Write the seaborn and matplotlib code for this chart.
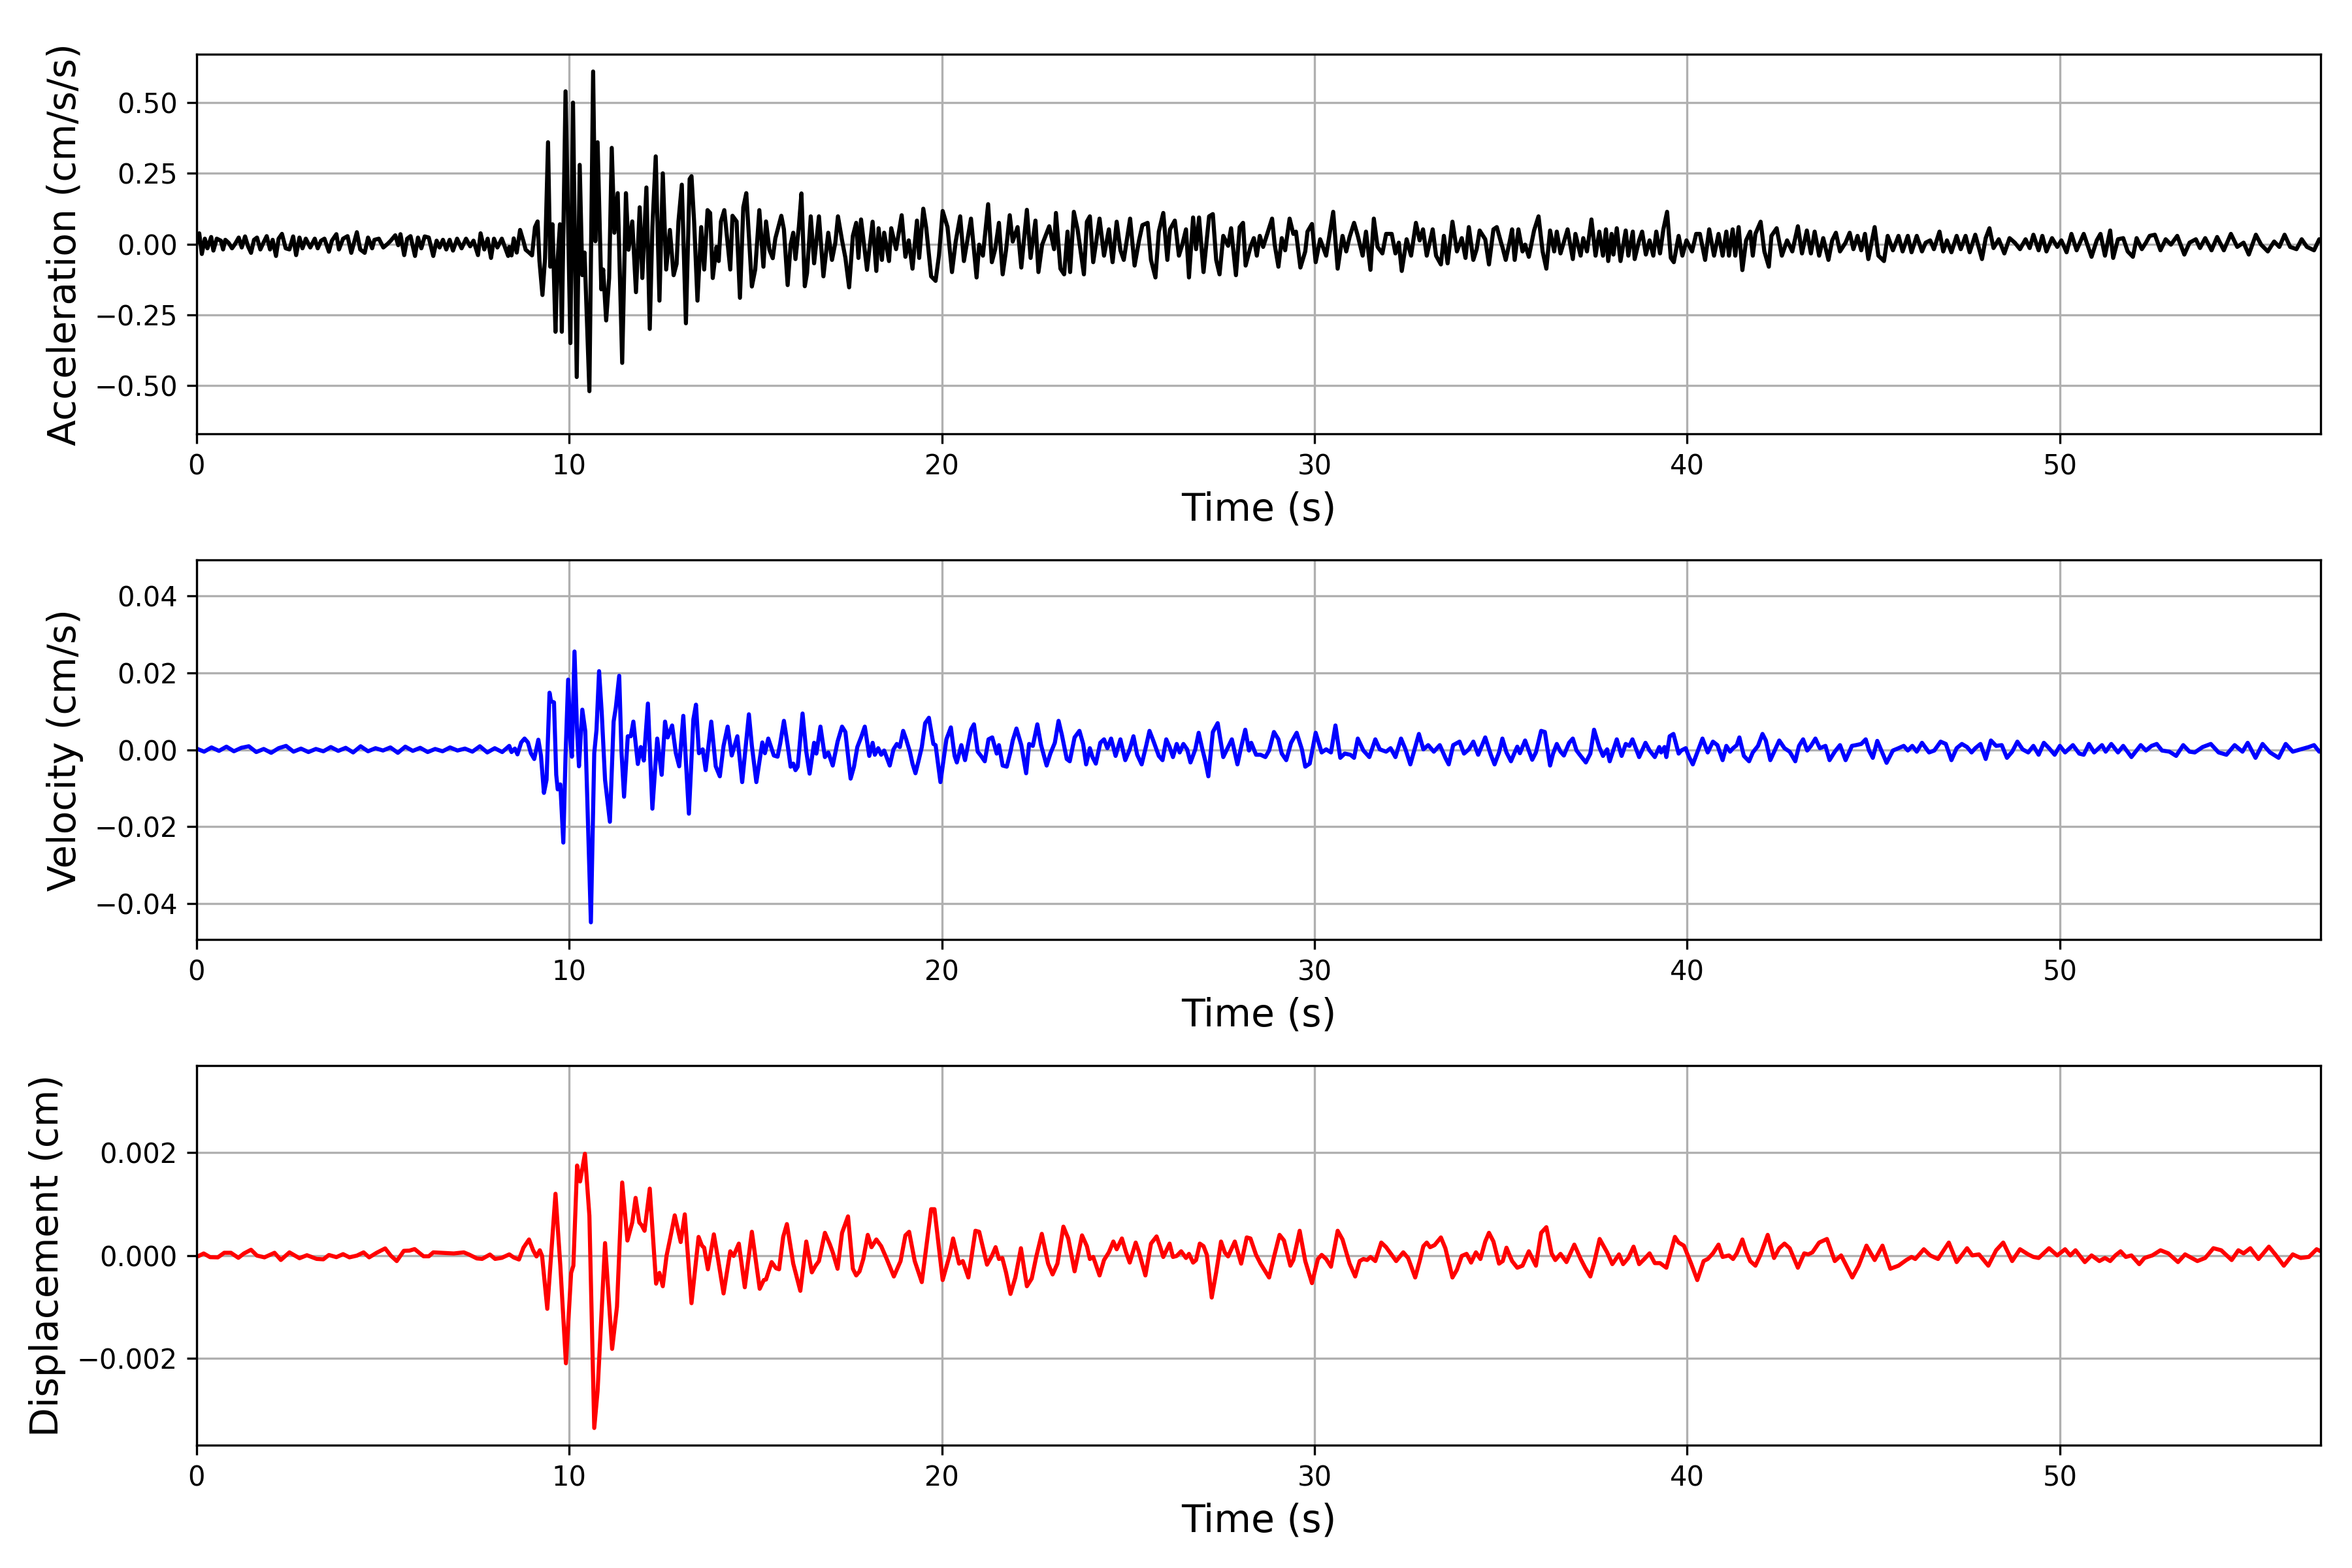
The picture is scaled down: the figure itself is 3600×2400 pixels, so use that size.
import pandas as pd
import numpy as np
import matplotlib
matplotlib.use('Agg')
import matplotlib.pyplot as plt
import seaborn as sns

# values: (time in s, value) at the turning points of each trace

# acceleration, cm/s/s
accel_pre = [(0.00, 0.005), (0.07, 0.038), (0.14, -0.035), (0.22, 0.019), (0.29, -0.015), (0.39, 0.025),
             (0.45, -0.023), (0.54, 0.019), (0.65, 0.012), (0.71, -0.019), (0.77, 0.015), (0.86, 0.004),
             (0.95, -0.015), (1.03, 0.000), (1.13, 0.023), (1.21, -0.012), (1.30, 0.027), (1.38, -0.008),
             (1.46, -0.031), (1.54, 0.015), (1.62, 0.023), (1.71, -0.019), (1.79, 0.004), (1.88, 0.028),
             (1.97, -0.019), (2.04, 0.015), (2.13, -0.042), (2.20, 0.019), (2.29, 0.036), (2.39, -0.015),
             (2.49, -0.019), (2.59, 0.027), (2.67, -0.039), (2.76, 0.023), (2.84, -0.015), (2.93, 0.019),
             (3.05, -0.012), (3.17, 0.019), (3.25, -0.015), (3.34, 0.012), (3.43, 0.019), (3.55, -0.027),
             (3.63, 0.012), (3.75, 0.035), (3.82, -0.019), (3.93, 0.019), (4.05, 0.028), (4.15, -0.031),
             (4.30, 0.042), (4.39, -0.019), (4.51, -0.031), (4.60, 0.023), (4.71, -0.015), (4.77, 0.015),
             (4.89, 0.019), (5.01, -0.012), (5.12, 0.000), (5.21, 0.012), (5.33, 0.031), (5.41, -0.004),
             (5.47, 0.035), (5.57, -0.039), (5.65, 0.019), (5.74, 0.028), (5.86, -0.042), (5.94, 0.023),
             (6.03, -0.015), (6.12, 0.027), (6.23, 0.023), (6.35, -0.042), (6.44, 0.012), (6.52, -0.012),
             (6.61, 0.015), (6.70, -0.019), (6.79, 0.015), (6.88, -0.023), (6.99, 0.019), (7.11, -0.015),
             (7.23, 0.019), (7.34, -0.008), (7.43, 0.012), (7.55, -0.039), (7.62, 0.038), (7.72, -0.019),
             (7.81, 0.019), (7.90, -0.049), (7.98, 0.019), (8.07, -0.012), (8.19, 0.019), (8.36, -0.042)]

accel_strong = [(8.39, -0.01), (8.45, -0.04), (8.51, 0.02), (8.59, -0.03), (8.68, 0.05), (8.77, 0.01),
                (8.83, -0.02), (8.92, -0.03), (9.00, -0.04), (9.08, 0.06), (9.15, 0.08), (9.20, -0.06),
                (9.28, -0.18), (9.35, -0.05), (9.43, 0.36), (9.49, -0.08), (9.55, 0.07), (9.63, -0.31),
                (9.68, -0.07), (9.75, 0.07), (9.80, -0.31), (9.90, 0.54), (10.03, -0.35), (10.10, 0.50),
                (10.20, -0.47), (10.28, 0.28), (10.35, -0.11), (10.41, -0.03), (10.54, -0.52), (10.64, 0.61),
                (10.70, 0.01), (10.76, 0.36), (10.86, -0.16), (10.91, -0.09), (10.99, -0.27), (11.07, -0.12),
                (11.14, 0.34), (11.21, 0.04), (11.30, 0.18), (11.42, -0.42), (11.52, 0.18), (11.59, -0.02),
                (11.69, 0.08), (11.79, -0.17), (11.89, 0.13), (11.96, -0.12), (12.07, 0.20), (12.16, -0.30),
                (12.23, 0.06), (12.32, 0.31), (12.42, -0.20), (12.51, 0.25), (12.60, -0.09), (12.70, 0.05),
                (12.80, -0.11), (12.88, -0.07), (12.93, 0.08), (13.02, 0.21), (13.13, -0.28), (13.23, 0.23),
                (13.28, 0.24), (13.35, 0.08), (13.44, -0.20), (13.54, 0.06), (13.62, -0.09), (13.71, 0.12),
                (13.78, 0.11), (13.85, -0.12), (13.95, -0.01), (14.01, -0.06), (14.07, 0.08), (14.16, 0.12),
                (14.32, -0.09), (14.38, 0.10), (14.49, 0.08), (14.58, -0.19), (14.67, 0.13), (14.75, 0.18),
                (14.82, 0.03), (14.90, -0.15), (14.99, -0.09), (15.10, 0.12), (15.21, -0.08), (15.28, 0.08),
                (15.37, -0.02), (15.46, -0.05), (15.53, 0.02), (15.69, 0.10)]

accel_mid = [(15.76, 0.052), (15.86, -0.145), (15.94, -0.002), (16.01, 0.040), (16.07, -0.053), (16.16, 0.060),
             (16.23, 0.179), (16.32, -0.149), (16.38, -0.103), (16.48, 0.098), (16.57, -0.068), (16.70, 0.098),
             (16.82, -0.114), (16.95, 0.040), (17.05, -0.056), (17.14, 0.005), (17.21, 0.098), (17.32, 0.013),
             (17.41, -0.049), (17.51, -0.153), (17.61, 0.029), (17.70, 0.075), (17.76, -0.049), (17.83, 0.087),
             (17.99, -0.091), (18.14, 0.079), (18.24, -0.095), (18.30, 0.056), (18.39, -0.056), (18.45, 0.040),
             (18.58, -0.060), (18.64, 0.056), (18.77, -0.018), (18.92, 0.102), (19.02, -0.045), (19.11, 0.013),
             (19.21, -0.087), (19.33, 0.083), (19.39, -0.049), (19.50, 0.125), (19.58, 0.056), (19.71, -0.114),
             (19.83, -0.130), (19.92, -0.041), (20.02, 0.117), (20.15, 0.060), (20.27, -0.099), (20.37, 0.009),
             (20.49, 0.098), (20.59, -0.060), (20.78, 0.090), (20.93, -0.118), (21.00, -0.002), (21.10, -0.041),
             (21.24, 0.141), (21.34, -0.064), (21.43, -0.018), (21.53, 0.075), (21.63, -0.107), (21.72, -0.022),
             (21.82, 0.102), (21.90, 0.009), (22.03, 0.060), (22.13, -0.083), (22.28, 0.121), (22.38, -0.049),
             (22.51, 0.083), (22.59, -0.099), (22.69, -0.002), (22.88, 0.063), (23.01, -0.018), (23.06, 0.110),
             (23.18, -0.087), (23.28, -0.107), (23.37, 0.044), (23.44, -0.099), (23.54, 0.114), (23.64, 0.052),
             (23.81, -0.107), (23.89, 0.079), (23.97, 0.098), (24.06, -0.064), (24.23, 0.090), (24.35, -0.041),
             (24.48, 0.052), (24.58, -0.064), (24.69, 0.079), (24.79, -0.022), (24.88, -0.056), (24.98, 0.029),
             (25.05, 0.090), (25.17, -0.076), (25.29, 0.013), (25.38, 0.067), (25.52, 0.075), (25.61, -0.056),
             (25.73, -0.118), (25.82, 0.044), (25.94, 0.110), (26.05, -0.056), (26.12, 0.052), (26.25, 0.083),
             (26.36, -0.041), (26.45, -0.002), (26.55, 0.052), (26.63, -0.118), (26.74, 0.094), (26.82, -0.018),
             (26.90, 0.094), (27.02, -0.099), (27.17, 0.098), (27.27, 0.106), (27.36, -0.056), (27.45, -0.107),
             (27.55, 0.029), (27.68, -0.006), (27.76, 0.056), (27.89, -0.110), (27.99, 0.060), (28.08, 0.075),
             (28.15, -0.076), (28.28, -0.010), (28.37, 0.021), (28.45, -0.041), (28.53, 0.029), (28.62, -0.010),
             (28.73, 0.036), (28.86, 0.090), (28.93, -0.002), (29.03, -0.080), (29.12, 0.021), (29.21, -0.022),
             (29.33, 0.090), (29.43, 0.036), (29.50, 0.044), (29.62, -0.083), (29.75, -0.026), (29.81, 0.044),
             (29.93, 0.071), (30.03, -0.064), (30.15, 0.017), (30.31, -0.041), (30.50, 0.114), (30.62, -0.087),
             (30.75, 0.029), (30.85, -0.026), (30.94, 0.025), (31.06, 0.075), (31.16, 0.029), (31.29, -0.041),
             (31.38, 0.044), (31.50, -0.091), (31.59, 0.090), (31.69, -0.010), (31.82, -0.033), (31.92, 0.036),
             (32.07, 0.036), (32.17, -0.033), (32.26, 0.005), (32.34, -0.095), (32.47, 0.017), (32.59, -0.041),
             (32.72, 0.075), (32.82, 0.013), (32.91, 0.052), (33.01, -0.041), (33.17, 0.052), (33.26, -0.041),
             (33.39, -0.072), (33.47, 0.029), (33.57, -0.068), (33.70, 0.079), (33.82, -0.026), (33.95, 0.021),
             (34.05, -0.049), (34.14, 0.060), (34.26, -0.056), (34.35, -0.018), (34.43, 0.048), (34.58, 0.017),
             (34.68, -0.072), (34.80, 0.052), (34.89, 0.060), (35.02, -0.002)]

accel_late = [(35.04, -0.010), (35.13, -0.056), (35.23, 0.005), (35.30, 0.052), (35.37, -0.056), (35.47, 0.052),
              (35.58, -0.026), (35.65, -0.002), (35.75, -0.045), (35.89, 0.048), (36.01, 0.098), (36.12, -0.026),
              (36.22, -0.087), (36.32, 0.048), (36.43, -0.026), (36.50, 0.044), (36.60, -0.033), (36.72, 0.021),
              (36.79, 0.052), (36.93, -0.053), (37.00, 0.036), (37.14, -0.041), (37.21, 0.021), (37.31, -0.026),
              (37.43, 0.087), (37.54, -0.041), (37.64, 0.044), (37.74, -0.041), (37.82, 0.052), (37.88, -0.060),
              (37.97, 0.036), (38.02, -0.037), (38.11, 0.056), (38.21, -0.060), (38.35, 0.048), (38.42, -0.041),
              (38.54, 0.044), (38.59, -0.053), (38.71, 0.013), (38.79, 0.044), (38.89, -0.037), (38.99, 0.013),
              (39.09, -0.041), (39.17, 0.044), (39.27, -0.033), (39.36, 0.052), (39.46, 0.114), (39.56, -0.049),
              (39.64, -0.064), (39.77, 0.029), (39.87, -0.041), (39.98, 0.013), (40.13, -0.026), (40.24, 0.036),
              (40.34, 0.036), (40.48, -0.056), (40.59, 0.052), (40.72, -0.041), (40.84, 0.036), (40.95, -0.041),
              (41.05, 0.044), (41.12, -0.041), (41.22, 0.052), (41.29, -0.041), (41.38, 0.060), (41.48, -0.092),
              (41.58, 0.013), (41.69, 0.044), (41.76, -0.041), (41.83, 0.036), (41.97, 0.079), (42.07, -0.026),
              (42.19, -0.080), (42.26, 0.029), (42.40, 0.056), (42.54, -0.041), (42.68, 0.013), (42.82, -0.026),
              (42.97, 0.063), (43.08, -0.033), (43.21, 0.048), (43.32, -0.033), (43.42, 0.044), (43.54, -0.041),
              (43.65, 0.021), (43.79, -0.056), (43.89, 0.013), (43.99, 0.040), (44.10, -0.026), (44.25, 0.005),
              (44.36, 0.040), (44.46, -0.018), (44.57, 0.029), (44.67, -0.022), (44.77, 0.036), (44.86, -0.053),
              (45.03, 0.060), (45.13, -0.041), (45.28, -0.060), (45.38, 0.029), (45.52, -0.022), (45.67, 0.029),
              (45.78, -0.026), (45.92, 0.029), (46.02, -0.029), (46.16, 0.029), (46.30, -0.026), (46.40, 0.005),
              (46.52, 0.013), (46.62, -0.018), (46.77, 0.044), (46.87, -0.026), (46.97, 0.013), (47.09, -0.029),
              (47.23, 0.029), (47.34, -0.018), (47.47, 0.029), (47.58, -0.029), (47.73, 0.033), (47.91, -0.053),
              (48.01, 0.021), (48.11, 0.056), (48.22, -0.014), (48.36, 0.017), (48.51, -0.033), (48.65, 0.021),
              (48.79, 0.005), (48.93, -0.018), (49.08, 0.017), (49.19, -0.014), (49.29, 0.033), (49.43, -0.022),
              (49.53, 0.029), (49.64, -0.026), (49.79, 0.021), (49.93, -0.010), (50.04, 0.013), (50.18, -0.029),
              (50.31, 0.036), (50.45, -0.022), (50.64, 0.036), (50.85, -0.045), (50.99, 0.013), (51.09, 0.036),
              (51.21, -0.041), (51.35, 0.048), (51.43, -0.049), (51.56, 0.017), (51.70, 0.021), (51.82, -0.026),
              (51.96, -0.045), (52.06, 0.021), (52.20, -0.018), (52.31, 0.005), (52.41, 0.029), (52.55, 0.033),
              (52.70, -0.022), (52.84, 0.017), (52.98, -0.002), (53.15, 0.029), (53.34, -0.037), (53.48, 0.005),
              (53.65, 0.017), (53.76, -0.014), (53.90, 0.021), (54.07, -0.022), (54.22, 0.025), (54.40, -0.022),
              (54.59, 0.036), (54.76, -0.010), (54.93, 0.005), (55.07, -0.037), (55.26, 0.033), (55.40, -0.002),
              (55.58, -0.026), (55.75, 0.009), (55.89, -0.010), (56.03, 0.033), (56.18, -0.010), (56.35, -0.018),
              (56.49, 0.017), (56.63, -0.010), (56.82, -0.022), (56.96, 0.017), (57.00, 0.010)]

# velocity, cm/s
vel_pre = [(0.0, 0.0003), (0.2, -0.0005), (0.4, 0.0006), (0.6, -0.0003), (0.8, 0.0008), (1.0, -0.0004),
           (1.2, 0.0005), (1.4, 0.0009), (1.6, -0.0006), (1.8, 0.0002), (2.0, -0.0008), (2.2, 0.0004),
           (2.4, 0.0010), (2.6, -0.0005), (2.8, 0.0003), (3.0, -0.0006), (3.2, 0.0002), (3.4, -0.0004),
           (3.6, 0.0007), (3.8, -0.0003), (4.0, 0.0005), (4.2, -0.0007), (4.4, 0.0009), (4.6, -0.0004),
           (4.8, 0.0004), (5.0, -0.0002), (5.2, 0.0006), (5.4, -0.0008), (5.6, 0.0008), (5.8, -0.0003),
           (6.0, 0.0005), (6.2, -0.0006), (6.4, 0.0002), (6.6, -0.0004), (6.8, 0.0006), (7.0, -0.0002),
           (7.2, 0.0003), (7.4, -0.0005), (7.6, 0.0009), (7.8, -0.0007), (8.0, 0.0004), (8.2, -0.0006)]

vel_strong = [(8.39, 0.0010), (8.45, -0.0006), (8.54, 0.0003), (8.61, -0.0012), (8.71, 0.0019), (8.80, 0.0029),
              (8.89, 0.0019), (8.97, -0.0009), (9.06, -0.0024), (9.17, 0.0026), (9.24, -0.0015), (9.32, -0.0112),
              (9.39, -0.0078), (9.47, 0.0148), (9.51, 0.0126), (9.59, 0.0123), (9.65, -0.0065), (9.69, -0.0103),
              (9.76, -0.0090), (9.84, -0.0241), (9.90, -0.0015), (9.97, 0.0182), (10.03, 0.0023), (10.07, -0.0018),
              (10.14, 0.0255), (10.21, 0.0048), (10.26, -0.0043), (10.35, 0.0104), (10.43, 0.0048), (10.58, -0.0448),
              (10.67, -0.0009), (10.73, 0.0051), (10.80, 0.0204), (10.87, 0.0098), (10.96, -0.0078), (11.09, -0.0187),
              (11.19, 0.0073), (11.25, 0.0110), (11.34, 0.0192), (11.40, -0.0003), (11.47, -0.0122), (11.57, 0.0035),
              (11.65, 0.0035), (11.72, 0.0073), (11.84, -0.0037), (11.92, 0.0007), (12.00, -0.0028), (12.11, 0.0120),
              (12.23, -0.0153), (12.36, 0.0029), (12.48, -0.0065), (12.57, 0.0073), (12.64, 0.0032), (12.76, 0.0063),
              (12.86, -0.0009), (12.95, -0.0043), (13.06, 0.0088), (13.21, -0.0166), (13.33, 0.0079), (13.40, 0.0117),
              (13.48, -0.0009), (13.58, 0.0001), (13.66, -0.0053), (13.81, 0.0073), (13.93, -0.0043), (14.04, -0.0069),
              (14.14, 0.0010), (14.25, 0.0060), (14.36, -0.0015), (14.51, 0.0035), (14.64, -0.0084), (14.82, 0.0092),
              (14.90, 0.0010), (15.02, -0.0084), (15.18, 0.0019), (15.25, -0.0009), (15.34, 0.0029), (15.49, -0.0015),
              (15.59, -0.0018), (15.66, 0.0016), (15.76, 0.0075)]

vel_mid = [(15.86, 0.0012), (15.94, -0.0044), (16.01, -0.0036), (16.07, -0.0053), (16.13, -0.0044), (16.26, 0.0094),
           (16.36, -0.0005), (16.45, -0.0062), (16.57, 0.0018), (16.63, -0.0010), (16.74, 0.0060), (16.86, -0.0019),
           (16.95, -0.0007), (17.07, -0.0041), (17.20, 0.0021), (17.32, 0.0060), (17.41, 0.0046), (17.55, -0.0075),
           (17.64, -0.0044), (17.73, 0.0007), (17.83, 0.0032), (17.93, 0.0060), (18.05, -0.0016), (18.14, 0.0018),
           (18.20, -0.0013), (18.29, 0.0004), (18.37, -0.0013), (18.45, -0.0002), (18.60, -0.0041), (18.70, 0.0001),
           (18.79, 0.0015), (18.87, 0.0007), (18.96, 0.0049), (19.04, 0.0027), (19.14, -0.0005), (19.21, -0.0036),
           (19.29, -0.0061), (19.37, -0.0030), (19.46, 0.0007), (19.55, 0.0069), (19.65, 0.0083), (19.77, 0.0015),
           (19.83, 0.0012), (19.96, -0.0084), (20.12, 0.0027), (20.24, 0.0058), (20.34, -0.0016), (20.40, -0.0033),
           (20.52, 0.0012), (20.62, -0.0027), (20.78, 0.0052), (20.86, 0.0066), (20.96, -0.0005), (21.05, -0.0016),
           (21.15, -0.0030), (21.25, 0.0027), (21.35, 0.0032), (21.47, -0.0010), (21.53, 0.0012), (21.63, -0.0041),
           (21.74, -0.0044), (21.84, -0.0005), (21.90, 0.0024), (22.00, 0.0055), (22.13, 0.0012), (22.26, -0.0061),
           (22.34, 0.0015), (22.44, 0.0010), (22.56, 0.0066), (22.66, 0.0012), (22.81, -0.0041), (22.91, -0.0010),
           (23.03, 0.0018), (23.13, 0.0075), (23.22, 0.0038), (23.35, -0.0024), (23.43, -0.0030), (23.56, 0.0032),
           (23.69, 0.0049), (23.79, 0.0015), (23.87, -0.0038), (23.97, 0.0004), (24.04, -0.0019), (24.13, -0.0036),
           (24.25, 0.0018), (24.35, 0.0027), (24.44, 0.0004), (24.54, 0.0029), (24.66, -0.0016), (24.79, 0.0027),
           (24.92, -0.0027), (25.04, 0.0001), (25.14, 0.0035), (25.24, -0.0013), (25.36, -0.0038), (25.48, 0.0010),
           (25.57, 0.0049), (25.67, 0.0024), (25.82, -0.0016), (25.92, -0.0027), (26.02, 0.0027), (26.11, 0.0007),
           (26.20, -0.0019), (26.30, 0.0015), (26.38, -0.0007), (26.48, 0.0015), (26.58, 0.0001), (26.67, -0.0033),
           (26.80, 0.0001), (26.89, 0.0044), (26.99, 0.0001), (27.07, -0.0030), (27.15, -0.0069), (27.27, 0.0046),
           (27.40, 0.0069), (27.55, -0.0019), (27.68, 0.0007), (27.78, 0.0027), (27.93, -0.0038), (28.03, 0.0007),
           (28.14, 0.0052), (28.24, -0.0002), (28.30, 0.0018), (28.43, -0.0013), (28.55, -0.0013), (28.68, -0.0019),
           (28.78, -0.0002), (28.91, 0.0046), (29.03, 0.0027), (29.12, -0.0010), (29.24, -0.0027), (29.37, 0.0018),
           (29.52, 0.0044), (29.66, 0.0001), (29.75, -0.0044), (29.87, -0.0036), (30.03, 0.0044), (30.19, -0.0007),
           (30.31, 0.0001), (30.44, -0.0007), (30.56, 0.0063), (30.69, -0.0021), (30.81, -0.0010), (30.96, -0.0013),
           (31.06, -0.0021), (31.16, 0.0029), (31.31, -0.0002), (31.47, -0.0019), (31.63, 0.0027), (31.75, 0.0001),
           (31.92, -0.0005), (32.04, 0.0004), (32.17, -0.0019), (32.32, 0.0029), (32.44, 0.0001), (32.57, -0.0038),
           (32.80, 0.0041), (32.92, 0.0001), (33.05, 0.0012), (33.20, -0.0005), (33.36, 0.0012), (33.51, -0.0021),
           (33.60, -0.0038), (33.72, 0.0012), (33.89, 0.0021), (34.01, -0.0010), (34.14, 0.0001), (34.26, 0.0021),
           (34.39, -0.0013), (34.58, 0.0032), (34.73, -0.0013), (34.83, -0.0038), (34.95, -0.0007)]

vel_late = [(35.04, 0.0029), (35.15, -0.0007), (35.27, -0.0030), (35.37, -0.0007), (35.44, 0.0008), (35.51, -0.0009),
            (35.65, 0.0024), (35.84, -0.0026), (35.94, -0.0007), (36.08, 0.0049), (36.18, 0.0046), (36.32, -0.0041),
            (36.40, -0.0010), (36.50, 0.0015), (36.60, -0.0005), (36.69, -0.0015), (36.83, 0.0018), (36.93, 0.0029),
            (37.03, -0.0002), (37.14, -0.0016), (37.28, -0.0033), (37.40, -0.0010), (37.50, 0.0052), (37.64, 0.0007),
            (37.74, -0.0016), (37.85, 0.0001), (37.92, -0.0030), (38.11, 0.0027), (38.24, -0.0016), (38.35, 0.0015),
            (38.45, 0.0010), (38.53, 0.0027), (38.71, -0.0019), (38.88, 0.0018), (38.99, -0.0002), (39.13, -0.0019),
            (39.25, 0.0007), (39.30, -0.0007), (39.39, 0.0007), (39.44, -0.0019), (39.53, 0.0035), (39.63, 0.0041),
            (39.77, -0.0010), (39.84, -0.0002), (39.96, 0.0004), (40.05, -0.0019), (40.15, -0.0038), (40.27, -0.0007),
            (40.41, 0.0029), (40.55, -0.0007), (40.69, 0.0021), (40.81, 0.0012), (40.95, -0.0027), (41.05, 0.0010),
            (41.15, -0.0005), (41.23, 0.0004), (41.33, 0.0012), (41.40, 0.0032), (41.52, -0.0016), (41.66, -0.0030),
            (41.76, -0.0007), (41.90, 0.0010), (42.02, 0.0041), (42.11, 0.0024), (42.23, -0.0027), (42.47, 0.0024),
            (42.61, 0.0004), (42.75, -0.0005), (42.90, -0.0030), (43.00, 0.0010), (43.11, 0.0027), (43.22, -0.0002),
            (43.32, 0.0010), (43.44, 0.0029), (43.56, 0.0004), (43.71, 0.0010), (43.82, -0.0027), (43.96, -0.0005),
            (44.10, 0.0012), (44.25, -0.0027), (44.42, 0.0010), (44.53, 0.0012), (44.67, 0.0015), (44.79, 0.0027),
            (44.88, -0.0002), (44.98, -0.0021), (45.10, 0.0023), (45.35, -0.0034), (45.52, -0.0002), (45.67, 0.0004),
            (45.81, 0.0010), (45.92, -0.0002), (46.04, 0.0010), (46.16, -0.0005), (46.30, 0.0018), (46.49, -0.0007),
            (46.63, -0.0002), (46.80, 0.0021), (46.94, 0.0015), (47.09, -0.0027), (47.23, 0.0004), (47.37, 0.0015),
            (47.51, 0.0007), (47.63, -0.0007), (47.73, 0.0004), (47.87, 0.0015), (48.01, -0.0024), (48.15, 0.0024),
            (48.29, 0.0010), (48.44, 0.0012), (48.58, -0.0021), (48.72, -0.0005), (48.86, 0.0021), (49.00, 0.0001),
            (49.15, -0.0007), (49.29, 0.0010), (49.43, -0.0013), (49.57, 0.0018), (49.71, 0.0004), (49.86, -0.0013),
            (50.00, 0.0010), (50.14, -0.0007), (50.35, 0.0012), (50.52, -0.0010), (50.64, -0.0013), (50.78, 0.0015),
            (50.92, -0.0007), (51.13, 0.0012), (51.23, -0.0005), (51.38, 0.0015), (51.56, -0.0007), (51.70, 0.0010),
            (51.92, -0.0019), (52.17, 0.0012), (52.31, -0.0002), (52.46, 0.0010), (52.60, 0.0015), (52.74, -0.0002),
            (52.94, -0.0005), (53.12, -0.0016), (53.31, 0.0012), (53.48, -0.0005), (53.62, -0.0007), (53.83, 0.0007),
            (54.05, 0.0015), (54.26, -0.0007), (54.47, -0.0013), (54.69, 0.0012), (54.90, -0.0005), (55.04, 0.0018),
            (55.25, -0.0021), (55.44, 0.0015), (55.64, -0.0007), (55.87, -0.0021), (56.06, 0.0015), (56.25, -0.0005),
            (56.46, 0.0001), (56.68, 0.0007), (56.82, 0.0012), (56.96, -0.0005), (57.00, -0.0002)]

# displacement, cm
disp_pre = [(0.00, 0.000000), (0.04, -0.000017), (0.19, 0.000038), (0.36, -0.000034), (0.57, -0.000038),
            (0.74, 0.000051), (0.92, 0.000051), (1.12, -0.000047), (1.27, 0.000038), (1.46, 0.000110),
            (1.62, -0.000004), (1.82, -0.000038), (2.09, 0.000051), (2.26, -0.000089), (2.49, 0.000059),
            (2.76, -0.000055), (2.96, 0.000004), (3.22, -0.000068), (3.40, -0.000076), (3.55, 0.000008),
            (3.75, -0.000034), (3.93, 0.000025), (4.10, -0.000038), (4.30, -0.000004), (4.48, 0.000059),
            (4.63, -0.000038), (4.83, 0.000051), (5.06, 0.000136), (5.21, -0.000004), (5.37, -0.000110),
            (5.56, 0.000089), (5.71, 0.000093), (5.85, 0.000123), (6.09, -0.000017), (6.23, -0.000017),
            (6.35, 0.000059), (6.67, 0.000047), (6.90, 0.000038), (7.17, 0.000059), (7.31, 0.000017),
            (7.52, -0.000059), (7.66, -0.000068), (7.87, 0.000017), (8.01, -0.000068), (8.19, -0.000047)]

disp_strong = [(8.39, 0.00002), (8.51, -0.00004), (8.65, -0.00008), (8.77, 0.00015), (8.92, 0.00031), (9.03, 0.00010),
               (9.12, -0.00002), (9.21, 0.00010), (9.27, -0.00001), (9.41, -0.00104), (9.63, 0.00120), (9.76, -0.00020),
               (9.91, -0.00210), (10.05, -0.00034), (10.11, -0.00020), (10.21, 0.00175), (10.29, 0.00144),
               (10.42, 0.00198), (10.54, 0.00077), (10.67, -0.00336), (10.76, -0.00264), (10.96, 0.00024),
               (11.15, -0.00182), (11.28, -0.00100), (11.42, 0.00142), (11.56, 0.00029), (11.69, 0.00064),
               (11.78, 0.00112), (11.88, 0.00064), (11.94, 0.00059), (12.02, 0.00048), (12.16, 0.00130),
               (12.33, -0.00055), (12.42, -0.00034), (12.51, -0.00060), (12.61, -0.00001), (12.71, 0.00034),
               (12.83, 0.00078), (12.99, 0.00026), (13.10, 0.00080), (13.28, -0.00093), (13.47, 0.00036),
               (13.56, 0.00019), (13.62, 0.00015), (13.72, -0.00027), (13.88, 0.00041), (13.99, -0.00006),
               (14.14, -0.00074), (14.32, 0.00008), (14.41, -0.00001), (14.55, 0.00023), (14.71, -0.00062),
               (14.90, 0.00046), (15.11, -0.00065), (15.22, -0.00048), (15.28, -0.00047), (15.43, -0.00013),
               (15.55, -0.00025), (15.63, -0.00027), (15.74, 0.00036)]

disp_mid = [(15.84, 0.00061), (16.01, -0.00016), (16.20, -0.00069), (16.36, 0.00027), (16.51, -0.00033),
            (16.61, -0.00020), (16.70, -0.00011), (16.86, 0.00044), (16.99, 0.00022), (17.07, 0.00006),
            (17.20, -0.00026), (17.32, 0.00044), (17.48, 0.00076), (17.61, -0.00026), (17.70, -0.00039),
            (17.79, -0.00031), (17.89, -0.00007), (18.01, 0.00040), (18.11, 0.00016), (18.24, 0.00031),
            (18.37, 0.00018), (18.52, -0.00007), (18.71, -0.00041), (18.89, -0.00011), (19.02, 0.00039),
            (19.12, 0.00046), (19.27, -0.00011), (19.46, -0.00052), (19.71, 0.00090), (19.80, 0.00090),
            (20.02, -0.00048), (20.21, 0.00001), (20.30, 0.00033), (20.46, -0.00016), (20.56, -0.00011),
            (20.71, -0.00043), (20.90, 0.00048), (21.00, 0.00046), (21.21, -0.00018), (21.34, -0.00001),
            (21.44, 0.00016), (21.53, -0.00007), (21.62, -0.00005), (21.72, -0.00033), (21.84, -0.00075),
            (21.97, -0.00043), (22.12, 0.00014), (22.28, -0.00060), (22.41, -0.00045), (22.53, -0.00003),
            (22.68, 0.00042), (22.85, -0.00016), (22.97, -0.00037), (23.10, -0.00016), (23.26, 0.00056),
            (23.39, 0.00033), (23.56, -0.00031), (23.76, 0.00039), (23.89, 0.00018), (23.97, -0.00007),
            (24.06, -0.00003), (24.23, -0.00039), (24.35, -0.00009), (24.48, 0.00006), (24.60, 0.00027),
            (24.69, 0.00012), (24.83, 0.00033), (24.94, 0.00006), (25.04, -0.00014), (25.20, 0.00025),
            (25.29, 0.00006), (25.46, -0.00039), (25.61, 0.00023), (25.76, 0.00037), (25.86, 0.00016),
            (25.94, -0.00003), (26.11, 0.00023), (26.20, -0.00003), (26.30, -0.00001), (26.42, 0.00008),
            (26.55, -0.00005), (26.63, 0.00003), (26.74, -0.00014), (26.82, -0.00009), (26.92, 0.00023),
            (27.02, 0.00018), (27.11, 0.00001), (27.24, -0.00082), (27.36, -0.00033), (27.49, 0.00027),
            (27.59, 0.00006), (27.68, -0.00002), (27.86, 0.00027), (28.03, -0.00016), (28.18, 0.00035),
            (28.28, 0.00033), (28.43, 0.00001), (28.55, -0.00016), (28.78, -0.00043), (28.91, -0.00003),
            (29.06, 0.00040), (29.18, 0.00029), (29.35, -0.00020), (29.43, -0.00009), (29.60, 0.00048),
            (29.75, -0.00011), (29.93, -0.00054), (30.09, -0.00007), (30.19, 0.00001), (30.31, -0.00007),
            (30.44, -0.00022), (30.62, 0.00048), (30.75, 0.00031), (30.94, -0.00016), (31.09, -0.00041),
            (31.21, -0.00011), (31.31, -0.00007), (31.41, -0.00009), (31.50, -0.00003), (31.63, -0.00011),
            (31.79, 0.00025), (31.92, 0.00016), (32.07, 0.00001), (32.19, -0.00011), (32.38, 0.00006),
            (32.51, -0.00005), (32.70, -0.00043), (32.82, -0.00011), (32.92, 0.00018), (33.01, 0.00025),
            (33.10, 0.00016), (33.22, 0.00020), (33.39, 0.00035), (33.51, 0.00014), (33.70, -0.00043),
            (33.82, -0.00028), (33.95, -0.00001), (34.08, 0.00003), (34.20, -0.00014), (34.33, 0.00006),
            (34.45, -0.00007), (34.58, 0.00027), (34.68, 0.00044), (34.80, 0.00027), (34.95, -0.00016)]

disp_late = [(35.05, -0.00011), (35.15, 0.00015), (35.30, -0.00011), (35.44, -0.00024), (35.58, -0.00020),
             (35.75, 0.00008), (35.94, -0.00020), (36.08, 0.00044), (36.22, 0.00055), (36.36, 0.00004),
             (36.46, -0.00009), (36.60, 0.00003), (36.76, -0.00013), (36.97, 0.00021), (37.14, -0.00007),
             (37.26, -0.00024), (37.40, -0.00041), (37.50, -0.00015), (37.65, 0.00032), (37.85, 0.00006),
             (37.99, -0.00017), (38.17, 0.00002), (38.28, -0.00017), (38.42, -0.00005), (38.56, 0.00017),
             (38.71, -0.00017), (38.85, -0.00007), (38.99, 0.00004), (39.13, -0.00015), (39.27, -0.00015),
             (39.44, -0.00024), (39.67, 0.00036), (39.77, 0.00025), (39.91, 0.00019), (40.10, -0.00015),
             (40.27, -0.00048), (40.44, -0.00011), (40.55, -0.00007), (40.69, 0.00004), (40.84, 0.00021),
             (40.95, -0.00003), (41.12, 0.00000), (41.23, -0.00007), (41.33, 0.00004), (41.48, 0.00031),
             (41.57, 0.00010), (41.69, -0.00011), (41.83, -0.00020), (41.97, 0.00002), (42.16, 0.00040),
             (42.33, -0.00005), (42.47, 0.00014), (42.61, 0.00023), (42.75, 0.00014), (42.97, -0.00024),
             (43.14, 0.00004), (43.25, 0.00002), (43.36, 0.00006), (43.54, 0.00025), (43.75, 0.00032),
             (43.96, -0.00011), (44.13, 0.00000), (44.25, -0.00017), (44.43, -0.00043), (44.60, -0.00020),
             (44.81, 0.00019), (45.03, -0.00009), (45.24, 0.00019), (45.45, -0.00026), (45.67, -0.00020),
             (45.88, -0.00009), (46.02, -0.00003), (46.12, -0.00007), (46.35, 0.00012), (46.52, 0.00000),
             (46.73, -0.00007), (47.02, 0.00025), (47.23, -0.00013), (47.51, 0.00014), (47.65, 0.00000),
             (47.83, 0.00002), (48.08, -0.00020), (48.29, 0.00010), (48.48, 0.00025), (48.72, -0.00011),
             (48.93, 0.00012), (49.15, 0.00002), (49.29, -0.00003), (49.43, -0.00005), (49.71, 0.00014),
             (49.93, 0.00000), (50.14, 0.00012), (50.28, 0.00000), (50.42, 0.00010), (50.67, -0.00013),
             (50.85, 0.00000), (51.06, -0.00011), (51.21, -0.00005), (51.35, -0.00011), (51.49, 0.00000),
             (51.63, 0.00008), (51.77, -0.00003), (51.92, 0.00000), (52.13, -0.00017), (52.27, -0.00005),
             (52.48, 0.00000), (52.70, 0.00010), (52.91, 0.00004), (53.17, -0.00013), (53.36, 0.00002),
             (53.69, -0.00011), (53.90, -0.00005), (54.12, 0.00014), (54.33, 0.00010), (54.61, -0.00009),
             (54.79, 0.00010), (54.93, 0.00004), (55.11, 0.00014), (55.33, -0.00007), (55.61, 0.00017),
             (55.78, 0.00002), (56.01, -0.00020), (56.25, 0.00002), (56.46, -0.00005), (56.68, -0.00003),
             (56.89, 0.00012), (57.00, 0.00008)]

panels = [
    ('Acceleration (cm/s/s)', 'black', accel_pre + accel_strong + accel_mid + accel_late),
    ('Velocity (cm/s)', 'blue', vel_pre + vel_strong + vel_mid + vel_late),
    ('Displacement (cm)', 'red', disp_pre + disp_strong + disp_mid + disp_late),
]

fig, axes = plt.subplots(3, 1, figsize=(12, 8), dpi=300)

for ax, (label, colour, pts) in zip(axes, panels):
    df = pd.DataFrame(pts, columns=['time', 'value'])
    sns.lineplot(data=df, x='time', y='value', ax=ax, color=colour,
                 linewidth=1.5, estimator=None, sort=False)
    # symmetric limits, 10% beyond the largest swing
    lim = 1.1 * np.abs(df['value']).max()
    ax.set_ylim(-lim, lim)
    ax.set_xlim(0, 57)
    ax.grid(True)
    ax.set_xlabel('Time (s)', fontsize=14)
    ax.set_ylabel(label, fontsize=14)

fig.subplots_adjust(left=0.0836, right=0.9867, top=0.9654, bottom=0.0783, hspace=0.332)
plt.savefig('out.png')
